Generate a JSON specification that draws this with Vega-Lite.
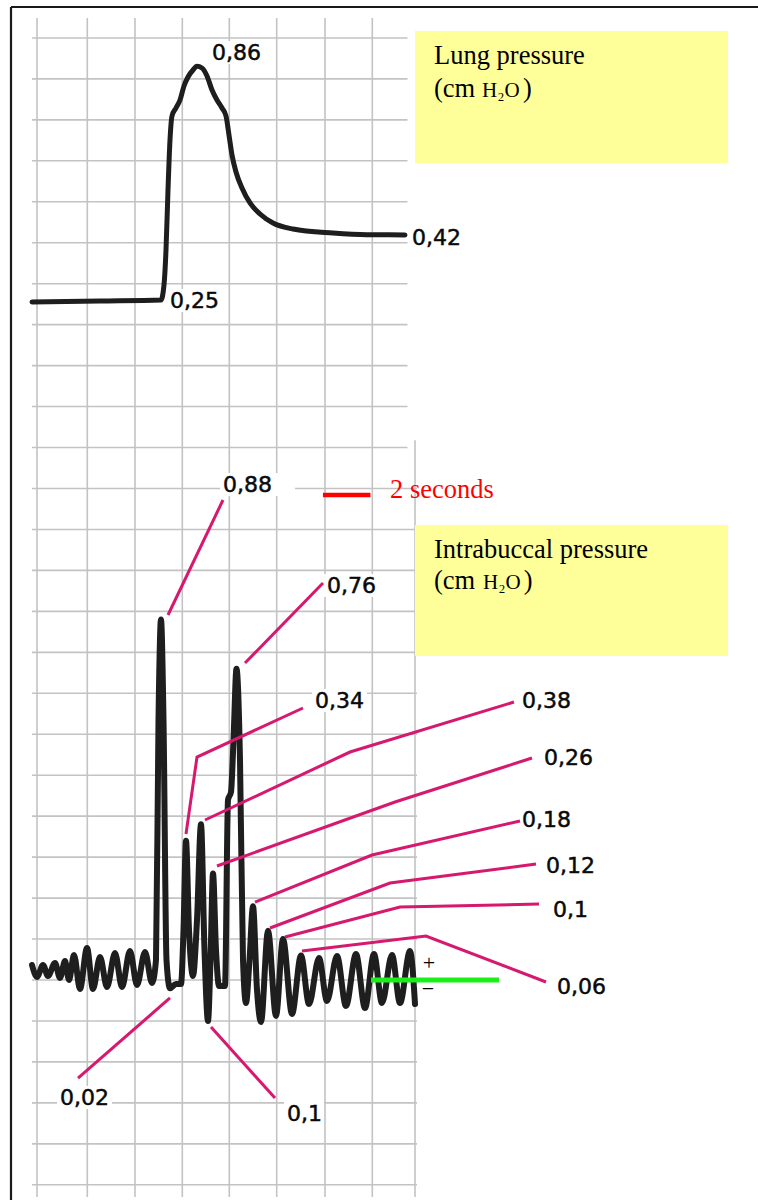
{
  "$schema": "https://vega.github.io/schema/vega-lite/v6.json",
  "width": 758,
  "height": 1200,
  "autosize": {"type": "none"},
  "padding": 0,
  "background": "#ffffff",
  "config": {"view": {"stroke": null}},
  "datasets": {
    "gridH": [
      {"p": -0.5, "t0": -0.2105, "t1": 16.0}, {"p": -0.4, "t0": -0.2105, "t1": 16.0},
      {"p": -0.3, "t0": -0.2105, "t1": 16.0}, {"p": -0.2, "t0": -0.2105, "t1": 16.0},
      {"p": -0.1, "t0": -0.2105, "t1": 16.0}, {"p": 0.0, "t0": -0.2105, "t1": 16.0},
      {"p": 0.1, "t0": -0.2105, "t1": 16.0}, {"p": 0.2, "t0": -0.2105, "t1": 16.0},
      {"p": 0.3, "t0": -0.2105, "t1": 16.0}, {"p": 0.4, "t0": -0.2105, "t1": 16.0},
      {"p": 0.5, "t0": -0.2105, "t1": 16.0}, {"p": 0.6, "t0": -0.2105, "t1": 16.0},
      {"p": 0.7, "t0": -0.2105, "t1": 16.0}, {"p": 0.8, "t0": -0.2105, "t1": 16.0},
      {"p": 0.9, "t0": -0.2105, "t1": 16.0}, {"p": 1.0, "t0": -0.2105, "t1": 16.0},
      {"p": 1.1, "t0": -0.2105, "t1": 16.0}, {"p": 1.2, "t0": -0.2105, "t1": 16.0},
      {"p": 1.3, "t0": -0.2105, "t1": 15.6}, {"p": 1.4, "t0": -0.2105, "t1": 15.6},
      {"p": 1.5, "t0": -0.2105, "t1": 15.6}, {"p": 1.6, "t0": -0.2105, "t1": 15.6},
      {"p": 1.7, "t0": -0.2105, "t1": 15.6}, {"p": 1.8, "t0": -0.2105, "t1": 15.6},
      {"p": 1.9, "t0": -0.2105, "t1": 15.6}, {"p": 2.0, "t0": -0.2105, "t1": 15.6},
      {"p": 2.1, "t0": -0.2105, "t1": 15.6}, {"p": 2.2, "t0": -0.2105, "t1": 15.6},
      {"p": 2.3, "t0": -0.2105, "t1": 15.6}
    ],
    "gridV": [
      {"t": 0.0, "p0": -0.5298, "p1": 2.3486}, {"t": 2.118, "p0": -0.5298, "p1": 2.3486},
      {"t": 4.126, "p0": -0.5298, "p1": 2.3486}, {"t": 6.118, "p0": -0.5298, "p1": 2.3486},
      {"t": 8.097, "p0": -0.5298, "p1": 2.3486}, {"t": 10.093, "p0": -0.5298, "p1": 2.3486},
      {"t": 12.126, "p0": -0.5298, "p1": 2.3486}, {"t": 14.118, "p0": -0.5298, "p1": 2.3486},
      {"t": 15.916, "p0": -0.5298, "p1": 1.318}
    ],
    "frame": [
      {"t0": -1.0947, "t1": 30.3579, "p0": 2.3755, "p1": 2.3755},
      {"t0": -1.0947, "t1": -1.0947, "p0": 2.3755, "p1": -0.5371}
    ],
    "knockouts": [
      {"t0": 7.7053, "t1": 10.8632, "p0": 1.2378, "p1": 1.1816},
      {"t0": 12.0842, "t1": 14.4, "p0": 0.9912, "p1": 0.9351},
      {"t0": 11.5789, "t1": 13.8947, "p0": 0.7104, "p1": 0.6543},
      {"t0": 0.8421, "t1": 3.1579, "p0": -0.2588, "p1": -0.3149},
      {"t0": 10.4, "t1": 12.0842, "p0": -0.2979, "p1": -0.354}
    ],
    "panels": [
      {"t0": 15.9158, "t1": 29.0947, "p0": 2.3169, "p1": 1.9946},
      {"t0": 15.9158, "t1": 29.0947, "p0": 1.1108, "p1": 0.791}
    ],
    "captions": [
      {"t": 16.7158, "p": 2.2363, "label": "Lung pressure"},
      {"t": 16.7158, "p": 2.1558, "label": "(cm"},
      {"t": 20.46, "p": 2.1558, "label": ")"},
      {"t": 16.7158, "p": 1.031, "label": "Intrabuccal pressure"},
      {"t": 16.7158, "p": 0.9546, "label": "(cm"},
      {"t": 20.5, "p": 0.9546, "label": ")"}
    ],
    "formula": [
      {"t": 18.7368, "p": 2.1558, "label": "H₂O"},
      {"t": 18.779, "p": 0.9546, "label": "H₂O"}
    ],
    "timeBar": [{"t0": 12.04, "t1": 14.04, "p": 1.1841}],
    "timeText": [{"t": 14.8632, "p": 1.1768, "label": "2 seconds"}],
    "buccal": [
      {"t": -0.2105, "p": 0.0366}, {"t": 0.0, "p": 0.0073}, {"t": 0.2526, "p": 0.0366},
      {"t": 0.4632, "p": 0.0098}, {"t": 0.7579, "p": 0.0415}, {"t": 0.9684, "p": 0.0049},
      {"t": 1.1789, "p": 0.0464}, {"t": 1.3474, "p": 0.0}, {"t": 1.5579, "p": 0.061},
      {"t": 1.8105, "p": -0.022}, {"t": 2.1053, "p": 0.0781}, {"t": 2.3579, "p": -0.022},
      {"t": 2.6526, "p": 0.0562}, {"t": 2.9474, "p": -0.0171}, {"t": 3.2842, "p": 0.0659},
      {"t": 3.5789, "p": -0.0171}, {"t": 3.9158, "p": 0.0708}, {"t": 4.2105, "p": -0.0122},
      {"t": 4.5474, "p": 0.0684}, {"t": 4.8421, "p": -0.0073}, {"t": 5.0105, "p": 0.0488},
      {"t": 5.1158, "p": 0.6348}, {"t": 5.2211, "p": 0.88}, {"t": 5.3263, "p": 0.6348},
      {"t": 5.4526, "p": 0.0488}, {"t": 5.6, "p": -0.02}, {"t": 5.8526, "p": -0.0098},
      {"t": 6.0632, "p": -0.0098}, {"t": 6.1684, "p": 0.1221}, {"t": 6.2737, "p": 0.34},
      {"t": 6.4, "p": 0.1221}, {"t": 6.5684, "p": 0.0098}, {"t": 6.7368, "p": 0.1465},
      {"t": 6.9053, "p": 0.38}, {"t": 7.0526, "p": 0.0732}, {"t": 7.2, "p": -0.1},
      {"t": 7.3053, "p": 0.0488}, {"t": 7.4105, "p": 0.26}, {"t": 7.5368, "p": 0.0732},
      {"t": 7.6632, "p": -0.0146}, {"t": 7.9158, "p": -0.0146}, {"t": 8.0421, "p": 0.4395},
      {"t": 8.1684, "p": 0.459}, {"t": 8.2737, "p": 0.5859}, {"t": 8.4, "p": 0.76},
      {"t": 8.5474, "p": 0.5371}, {"t": 8.6737, "p": 0.0488}, {"t": 8.8, "p": -0.0562},
      {"t": 8.9474, "p": 0.0488}, {"t": 9.0947, "p": 0.18}, {"t": 9.2632, "p": -0.0244},
      {"t": 9.4316, "p": -0.1025}, {"t": 9.7263, "p": 0.12}, {"t": 10.0632, "p": -0.0879},
      {"t": 10.3579, "p": 0.1}, {"t": 10.7368, "p": -0.083}, {"t": 11.1158, "p": 0.06},
      {"t": 11.4526, "p": -0.0586}, {"t": 11.8737, "p": 0.0537}, {"t": 12.2105, "p": -0.0513},
      {"t": 12.6316, "p": 0.0586}, {"t": 13.0105, "p": -0.0635}, {"t": 13.4316, "p": 0.0635},
      {"t": 13.8105, "p": -0.0684}, {"t": 14.1895, "p": 0.0635}, {"t": 14.5263, "p": -0.0562},
      {"t": 14.9474, "p": 0.061}, {"t": 15.2842, "p": -0.0562}, {"t": 15.7053, "p": 0.0708},
      {"t": 15.9158, "p": -0.0586}
    ],
    "leaders": [
      {"id": "a", "k": 0, "t": 5.5158, "p": 0.8911}, {"id": "a", "k": 1, "t": 7.8316, "p": 1.1719},
      {"id": "b", "k": 0, "t": 8.7579, "p": 0.7739}, {"id": "b", "k": 1, "t": 12.0421, "p": 0.9692},
      {"id": "c", "k": 0, "t": 6.2737, "p": 0.3564}, {"id": "c", "k": 1, "t": 6.7368, "p": 0.5444}, {"id": "c", "k": 2, "t": 11.2, "p": 0.6641},
      {"id": "d", "k": 0, "t": 7.0737, "p": 0.3906}, {"id": "d", "k": 1, "t": 13.1789, "p": 0.5566}, {"id": "d", "k": 2, "t": 20.0842, "p": 0.6787},
      {"id": "e", "k": 0, "t": 7.5789, "p": 0.2783}, {"id": "e", "k": 1, "t": 15.0737, "p": 0.4346}, {"id": "e", "k": 2, "t": 20.8421, "p": 0.542},
      {"id": "f", "k": 0, "t": 9.1789, "p": 0.1904}, {"id": "f", "k": 1, "t": 14.1053, "p": 0.3052}, {"id": "f", "k": 2, "t": 20.3368, "p": 0.3882},
      {"id": "g", "k": 0, "t": 9.8105, "p": 0.127}, {"id": "g", "k": 1, "t": 14.8632, "p": 0.2368}, {"id": "g", "k": 2, "t": 21.0105, "p": 0.2832},
      {"id": "h", "k": 0, "t": 10.4421, "p": 0.105}, {"id": "h", "k": 1, "t": 15.2842, "p": 0.1782}, {"id": "h", "k": 2, "t": 21.1368, "p": 0.1855},
      {"id": "i", "k": 0, "t": 11.1579, "p": 0.0708}, {"id": "i", "k": 1, "t": 16.3789, "p": 0.1074}, {"id": "i", "k": 2, "t": 21.4316, "p": -0.0049},
      {"id": "j", "k": 0, "t": 5.6, "p": -0.0439}, {"id": "j", "k": 1, "t": 1.7263, "p": -0.2393},
      {"id": "k", "k": 0, "t": 7.3263, "p": -0.1147}, {"id": "k", "k": 1, "t": 10.0211, "p": -0.2881}
    ],
    "zero": [{"t0": 14.0632, "t1": 19.4526, "p": 0.0}],
    "signs": [
      {"t": 16.5053, "p": 0.025, "label": "+"},
      {"t": 16.4632, "p": -0.0391, "label": "−"}
    ],
    "buccalLabels": [
      {"t": 7.8316, "p": 1.1914, "label": "0,88"},
      {"t": 12.2105, "p": 0.9448, "label": "0,76"},
      {"t": 11.7053, "p": 0.6641, "label": "0,34"},
      {"t": 20.4211, "p": 0.6641, "label": "0,38"},
      {"t": 21.3474, "p": 0.5249, "label": "0,26"},
      {"t": 20.4211, "p": 0.3735, "label": "0,18"},
      {"t": 21.4316, "p": 0.2612, "label": "0,12"},
      {"t": 21.7263, "p": 0.1538, "label": "0,1"},
      {"t": 21.8947, "p": -0.0342, "label": "0,06"},
      {"t": 0.9684, "p": -0.3052, "label": "0,02"},
      {"t": 10.5263, "p": -0.3442, "label": "0,1"}
    ],
    "lung": [
      {"t": -0.2105, "p": 0.2448}, {"t": 2.6526, "p": 0.2474}, {"t": 5.2211, "p": 0.25},
      {"t": 5.3474, "p": 0.2892}, {"t": 5.4316, "p": 0.3805}, {"t": 5.5158, "p": 0.5372},
      {"t": 5.6, "p": 0.6678}, {"t": 5.6842, "p": 0.7304}, {"t": 5.8526, "p": 0.7513},
      {"t": 6.0211, "p": 0.7722}, {"t": 6.1895, "p": 0.8088}, {"t": 6.3579, "p": 0.8322},
      {"t": 6.5684, "p": 0.8505}, {"t": 6.7368, "p": 0.86}, {"t": 6.9474, "p": 0.8557},
      {"t": 7.1579, "p": 0.8349}, {"t": 7.3684, "p": 0.7983}, {"t": 7.5789, "p": 0.7722},
      {"t": 7.7895, "p": 0.7513}, {"t": 7.9579, "p": 0.7304}, {"t": 8.0842, "p": 0.6808},
      {"t": 8.2105, "p": 0.6286}, {"t": 8.3789, "p": 0.5842}, {"t": 8.6316, "p": 0.5424},
      {"t": 8.9684, "p": 0.5033}, {"t": 9.3895, "p": 0.4745}, {"t": 9.9368, "p": 0.451},
      {"t": 10.7789, "p": 0.4354}, {"t": 12.4632, "p": 0.4249}, {"t": 13.8947, "p": 0.4205},
      {"t": 15.4947, "p": 0.42}
    ],
    "lungKnockouts": [
      {"t0": 7.2421, "t1": 9.5579, "p0": 0.9262, "p1": 0.8662},
      {"t0": 5.6, "t1": 7.7895, "p0": 0.2787, "p1": 0.2187}
    ],
    "lungLabels": [
      {"t": 7.3684, "p": 0.8766, "label": "0,86"},
      {"t": 5.6, "p": 0.2291, "label": "0,25"},
      {"t": 15.7895, "p": 0.3936, "label": "0,42"}
    ]
  },
  "resolve": {"scale": {"y": "independent"}},
  "layer": [
    {
      "layer": [
        {
          "data": {"name": "gridH"},
          "mark": {"type": "rule", "color": "#c3c3c3", "strokeWidth": 1.6},
          "encoding": {
            "x": {"field": "t0", "type": "quantitative", "scale": {"domain": [-1.5579, 30.3579], "nice": false, "zero": false}, "axis": null},
            "x2": {"field": "t1"},
            "y": {"field": "p", "type": "quantitative", "scale": {"domain": [-0.5371, 2.3926], "nice": false, "zero": false}, "axis": null}
          }
        },
        {
          "data": {"name": "gridV"},
          "mark": {"type": "rule", "color": "#c3c3c3", "strokeWidth": 1.6},
          "encoding": {
            "x": {"field": "t", "type": "quantitative", "axis": null},
            "y": {"field": "p0", "type": "quantitative", "axis": null},
            "y2": {"field": "p1"}
          }
        },
        {
          "data": {"name": "frame"},
          "mark": {"type": "rule", "color": "#1a1a1a", "strokeWidth": 2.2},
          "encoding": {
            "x": {"field": "t0", "type": "quantitative", "axis": null},
            "x2": {"field": "t1"},
            "y": {"field": "p0", "type": "quantitative", "axis": null},
            "y2": {"field": "p1"}
          }
        },
        {
          "data": {"name": "knockouts"},
          "mark": {"type": "rect", "fill": "#ffffff"},
          "encoding": {
            "x": {"field": "t0", "type": "quantitative", "axis": null},
            "x2": {"field": "t1"},
            "y": {"field": "p0", "type": "quantitative", "axis": null},
            "y2": {"field": "p1"}
          }
        },
        {
          "data": {"name": "panels"},
          "mark": {"type": "rect", "fill": "#ffff99"},
          "encoding": {
            "x": {"field": "t0", "type": "quantitative", "axis": null},
            "x2": {"field": "t1"},
            "y": {"field": "p0", "type": "quantitative", "axis": null},
            "y2": {"field": "p1"}
          }
        },
        {
          "data": {"name": "captions"},
          "mark": {"type": "text", "font": "Liberation Serif", "fontSize": 26.5, "align": "left", "baseline": "alphabetic", "color": "#000000"},
          "encoding": {
            "x": {"field": "t", "type": "quantitative", "axis": null},
            "y": {"field": "p", "type": "quantitative", "axis": null},
            "text": {"field": "label"}
          }
        },
        {
          "data": {"name": "formula"},
          "mark": {"type": "text", "font": "Liberation Serif", "fontSize": 21, "align": "left", "baseline": "alphabetic", "color": "#000000"},
          "encoding": {
            "x": {"field": "t", "type": "quantitative", "axis": null},
            "y": {"field": "p", "type": "quantitative", "axis": null},
            "text": {"field": "label"}
          }
        },
        {
          "data": {"name": "timeBar"},
          "mark": {"type": "rule", "color": "#ff0000", "strokeWidth": 4.5},
          "encoding": {
            "x": {"field": "t0", "type": "quantitative", "axis": null},
            "x2": {"field": "t1"},
            "y": {"field": "p", "type": "quantitative", "axis": null}
          }
        },
        {
          "data": {"name": "timeText"},
          "mark": {"type": "text", "font": "Liberation Serif", "fontSize": 26.5, "align": "left", "baseline": "alphabetic", "color": "#ff0000"},
          "encoding": {
            "x": {"field": "t", "type": "quantitative", "axis": null},
            "y": {"field": "p", "type": "quantitative", "axis": null},
            "text": {"field": "label"}
          }
        },
        {
          "data": {"name": "buccal"},
          "mark": {"type": "line", "color": "#1e1e1e", "strokeWidth": 6, "interpolate": "monotone", "strokeCap": "round", "strokeJoin": "round"},
          "encoding": {
            "x": {"field": "t", "type": "quantitative", "axis": null},
            "y": {"field": "p", "type": "quantitative", "axis": null}
          }
        },
        {
          "data": {"name": "leaders"},
          "mark": {"type": "line", "color": "#d6186f", "strokeWidth": 3},
          "encoding": {
            "x": {"field": "t", "type": "quantitative", "axis": null},
            "y": {"field": "p", "type": "quantitative", "axis": null},
            "detail": {"field": "id"},
            "order": {"field": "k", "type": "quantitative"}
          }
        },
        {
          "data": {"name": "zero"},
          "mark": {"type": "rule", "color": "#1aef1a", "strokeWidth": 5},
          "encoding": {
            "x": {"field": "t0", "type": "quantitative", "axis": null},
            "x2": {"field": "t1"},
            "y": {"field": "p", "type": "quantitative", "axis": null}
          }
        },
        {
          "data": {"name": "signs"},
          "mark": {"type": "text", "font": "Liberation Serif", "fontSize": 22, "align": "center", "baseline": "alphabetic", "color": "#000000"},
          "encoding": {
            "x": {"field": "t", "type": "quantitative", "axis": null},
            "y": {"field": "p", "type": "quantitative", "axis": null},
            "text": {"field": "label"}
          }
        },
        {
          "data": {"name": "buccalLabels"},
          "mark": {"type": "text", "font": "DejaVu Sans", "fontSize": 22, "align": "left", "baseline": "alphabetic", "color": "#0a0a0a", "stroke": "#0a0a0a", "strokeWidth": 0.5},
          "encoding": {
            "x": {"field": "t", "type": "quantitative", "axis": null},
            "y": {"field": "p", "type": "quantitative", "axis": null},
            "text": {"field": "label"}
          }
        }
      ]
    },
    {
      "layer": [
        {
          "data": {"name": "lungKnockouts"},
          "mark": {"type": "rect", "fill": "#ffffff"},
          "encoding": {
            "x": {"field": "t0", "type": "quantitative", "axis": null},
            "x2": {"field": "t1"},
            "y": {"field": "p0", "type": "quantitative", "scale": {"domain": [-2.0999, 1.0333], "nice": false, "zero": false}, "axis": null},
            "y2": {"field": "p1"}
          }
        },
        {
          "data": {"name": "lung"},
          "mark": {"type": "line", "color": "#1e1e1e", "strokeWidth": 5, "interpolate": "monotone", "strokeCap": "round", "strokeJoin": "round"},
          "encoding": {
            "x": {"field": "t", "type": "quantitative", "axis": null},
            "y": {"field": "p", "type": "quantitative", "axis": null}
          }
        },
        {
          "data": {"name": "lungLabels"},
          "mark": {"type": "text", "font": "DejaVu Sans", "fontSize": 22, "align": "left", "baseline": "alphabetic", "color": "#0a0a0a", "stroke": "#0a0a0a", "strokeWidth": 0.5},
          "encoding": {
            "x": {"field": "t", "type": "quantitative", "axis": null},
            "y": {"field": "p", "type": "quantitative", "axis": null},
            "text": {"field": "label"}
          }
        }
      ]
    }
  ]
}
